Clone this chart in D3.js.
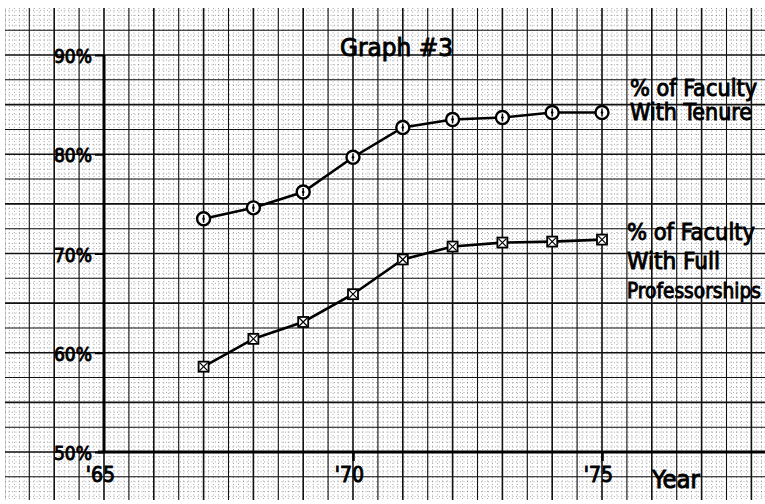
<!DOCTYPE html>
<html>
<head>
<meta charset="utf-8">
<script src="https://cdn.jsdelivr.net/npm/d3@7"></script>
<style>
  body { margin: 0; background: #fff; }
  text { font-family: "DejaVu Sans Condensed", "DejaVu Sans", sans-serif; fill: #000; }
  .hand { stroke: #000; stroke-width: 0.9; }
</style>
</head>
<body>
<script>
// data
var years = [67, 68, 69, 70, 71, 72, 73, 74, 75];
var tenure = [73.5, 74.6, 76.2, 79.7, 82.7, 83.5, 83.7, 84.2, 84.2];
var fullProf = [58.6, 61.4, 63.1, 65.9, 69.4, 70.7, 71.1, 71.2, 71.4];
var yTicks = [50, 60, 70, 80, 90];
var xTicks = [65, 70, 75];
var xTickLabels = ["'65", "'70", "'75"];
var tenureLabel = ["% of Faculty", "With Tenure"];
var profLabel = ["% of Faculty", "With Full", "Professorships"];
var title = "Graph #3";

var W = 765, H = 504;
var paper = { left: 5, top: 8, right: 765, bottom: 500 };

var svg = d3.select("body").append("svg")
    .attr("width", W)
    .attr("height", H);

var x = d3.scaleLinear().domain([65, 75]).range([104, 602]);
var y = d3.scaleLinear().domain([50, 90]).range([452, 55]);

svg.append("clipPath").attr("id", "paper")
    .append("rect")
    .attr("x", paper.left).attr("y", paper.top)
    .attr("width", paper.right - paper.left)
    .attr("height", paper.bottom - paper.top);

var grid = svg.append("g").attr("clip-path", "url(#paper)");

// fine dotted grid (every 0.1 yr / 0.5%)
var fineX = d3.range(62, 80, 0.1), fineY = d3.range(44, 96, 0.5);
grid.selectAll(".fx").data(fineX).enter().append("line")
    .attr("x1", d => x(d)).attr("x2", d => x(d))
    .attr("y1", paper.top).attr("y2", paper.bottom)
    .attr("stroke", "#000").attr("stroke-opacity", 0.45)
    .attr("stroke-width", 0.8).attr("stroke-dasharray", "1,2.5");
grid.selectAll(".fy").data(fineY).enter().append("line")
    .attr("y1", d => y(d)).attr("y2", d => y(d))
    .attr("x1", paper.left).attr("x2", paper.right)
    .attr("stroke", "#000").attr("stroke-opacity", 0.45)
    .attr("stroke-width", 0.8).attr("stroke-dasharray", "1,2.5");

// major grid lines
var majX = d3.range(62, 80, 0.5), majY = d3.range(45, 97.5, 2.5);
grid.selectAll(".mx").data(majX).enter().append("line")
    .attr("x1", d => x(d)).attr("x2", d => x(d))
    .attr("y1", paper.top).attr("y2", paper.bottom)
    .attr("stroke", "#111")
    .attr("stroke-width", d => (Math.abs(d % 1) < 0.01 ? 1.6 : 1.1));
grid.selectAll(".my").data(majY).enter().append("line")
    .attr("y1", d => y(d)).attr("y2", d => y(d))
    .attr("x1", paper.left).attr("x2", paper.right)
    .attr("stroke", "#111")
    .attr("stroke-width", d => (Math.abs(d % 5) < 0.01 ? 1.6 : 1.1));

// axes
var yAxis = svg.append("g")
    .attr("transform", "translate(" + x(65) + ",0)")
    .call(d3.axisLeft(y).tickValues(yTicks).tickSize(9).tickPadding(3)
        .tickFormat(d => d + "%"));
yAxis.select(".domain").remove();
yAxis.selectAll(".tick line").attr("stroke", "#000").attr("stroke-width", 2);
yAxis.selectAll(".tick text").attr("class", "hand").attr("font-size", 19)
    .attr("dy", "0.4em").style("font-family", "'DejaVu Sans Condensed', sans-serif");

svg.append("line")
    .attr("x1", x(65)).attr("x2", x(65))
    .attr("y1", y(90)).attr("y2", y(50))
    .attr("stroke", "#000").attr("stroke-width", 3);

var xAxis = svg.append("g")
    .attr("transform", "translate(0," + y(50) + ")")
    .call(d3.axisBottom(x).tickValues(xTicks).tickSize(9).tickPadding(6)
        .tickFormat((d, i) => xTickLabels[i]));
xAxis.select(".domain").remove();
xAxis.selectAll(".tick line").attr("stroke", "#000").attr("stroke-width", 2.5)
    .attr("opacity", d => d === 65 ? 0 : 1);
xAxis.selectAll(".tick text").attr("class", "hand").attr("font-size", 21)
    .attr("dx", "-0.2em").style("font-family", "'DejaVu Sans Condensed', sans-serif");

svg.append("line")
    .attr("x1", x(65) - 6).attr("x2", paper.right)
    .attr("y1", y(50)).attr("y2", y(50))
    .attr("stroke", "#000").attr("stroke-width", 3);

svg.append("text").attr("class", "hand")
    .attr("x", 652).attr("y", 488)
    .attr("font-size", 24)
    .attr("textLength", 48).attr("lengthAdjust", "spacingAndGlyphs")
    .text("Year");

// title
svg.append("text").attr("class", "hand")
    .attr("x", 340).attr("y", 56)
    .attr("font-size", 25)
    .attr("textLength", 113).attr("lengthAdjust", "spacingAndGlyphs")
    .text(title);

// series
var line = d3.line().x(d => x(d[0])).y(d => y(d[1]));
var tenurePts = years.map((yr, i) => [yr, tenure[i]]);
var profPts = years.map((yr, i) => [yr, fullProf[i]]);

svg.append("path").datum(tenurePts).attr("d", line)
    .attr("fill", "none").attr("stroke", "#000").attr("stroke-width", 2.6);
svg.append("path").datum(profPts).attr("d", line)
    .attr("fill", "none").attr("stroke", "#000").attr("stroke-width", 2.6);

var circ = svg.append("g").selectAll("g").data(tenurePts).enter().append("g")
    .attr("transform", d => "translate(" + x(d[0]) + "," + y(d[1]) + ")");
circ.append("circle").attr("r", 6.5)
    .attr("fill", "#fff").attr("stroke", "#000").attr("stroke-width", 2.4);
circ.append("line").attr("y1", -4).attr("y2", 4)
    .attr("stroke", "#000").attr("stroke-width", 1.5);
circ.append("circle").attr("r", 1.3).attr("fill", "#000");

var sq = svg.append("g").selectAll("g").data(profPts).enter().append("g")
    .attr("transform", d => "translate(" + x(d[0]) + "," + y(d[1]) + ")");
sq.append("rect").attr("x", -5).attr("y", -5).attr("width", 10).attr("height", 10)
    .attr("fill", "#fff").attr("stroke", "#000").attr("stroke-width", 1.8);
sq.append("path").attr("d", "M-4,-4L4,4M4,-4L-4,4")
    .attr("stroke", "#000").attr("stroke-width", 1.2);

// series labels
var lab1 = svg.append("g");
lab1.selectAll("text").data(tenureLabel).enter().append("text")
    .attr("class", "hand")
    .attr("x", 630).attr("y", (d, i) => 96 + i * 24)
    .attr("font-size", 23)
    .attr("textLength", (d, i) => i === 0 ? 127 : 122)
    .attr("lengthAdjust", "spacingAndGlyphs")
    .text(d => d);

var lab2 = svg.append("g");
lab2.selectAll("text").data(profLabel).enter().append("text")
    .attr("class", "hand")
    .attr("x", 627).attr("y", (d, i) => 240 + i * 29)
    .attr("font-size", (d, i) => i === 2 ? 21 : 23)
    .attr("textLength", (d, i) => [128, 93, 134][i])
    .attr("lengthAdjust", "spacingAndGlyphs")
    .text(d => d);
</script>
</body>
</html>
